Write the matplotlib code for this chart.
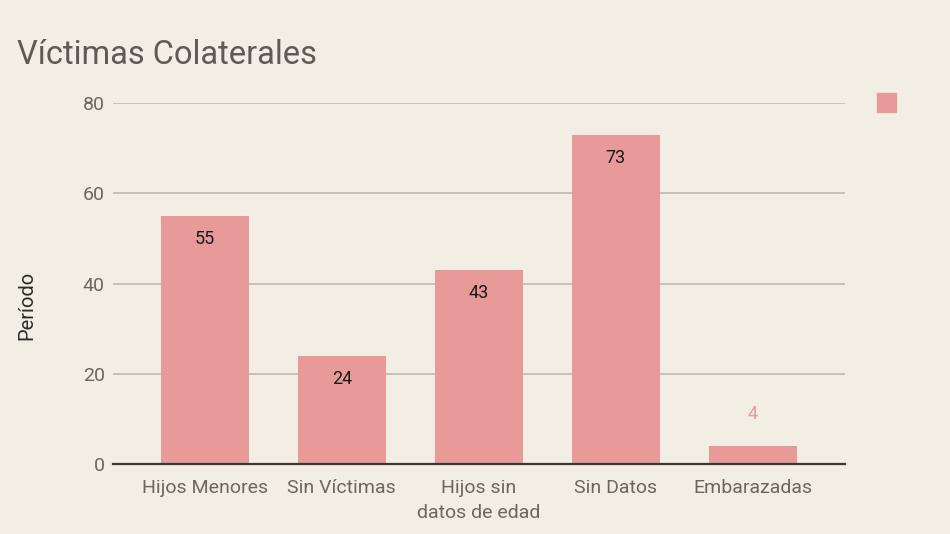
import matplotlib
matplotlib.use("Agg")
import matplotlib.pyplot as plt
from matplotlib.patches import Rectangle

categories = ["Hijos Menores", "Sin Víctimas", "Hijos sin\ndatos de edad", "Sin Datos", "Embarazadas"]
values = [55, 24, 43, 73, 4]
yticks = [0, 20, 40, 60, 80]

BG = "#f2eee3"
BAR = "#e89a99"
TXT = "#6b6660"
GRID = "#c6c1b5"

plt.rcParams['font.family'] = ['Roboto', 'DejaVu Sans']

fig = plt.figure(figsize=(9.5, 5.34), dpi=100, facecolor=BG)
ax = fig.add_axes([0.119, 0.131, 0.770, 0.676], facecolor=BG)

x = list(range(len(categories)))
bars = ax.bar(x, values, width=0.64, color=BAR, zorder=3)

for xi, v in zip(x, values):
    if v >= 10:
        ax.annotate(str(v), (xi, v), xytext=(0, -16.5), textcoords="offset points",
                    ha="center", va="center", fontsize=13, color="#1a1a1a", zorder=4)
    else:
        ax.annotate(str(v), (xi, v), xytext=(0, 23), textcoords="offset points",
                    ha="center", va="center", fontsize=13, color=BAR, zorder=4)

ax.set_xlim(-0.67, 4.67)
ax.set_ylim(0, 80)
ax.set_yticks(yticks)
ax.set_xticks(x)
ax.set_xticklabels(categories, fontsize=14, color=TXT, linespacing=1.55)
ax.tick_params(axis="y", labelsize=14, labelcolor=TXT, length=0, pad=6)
ax.tick_params(axis="x", length=0, pad=10.5)
ax.grid(axis="y", color=GRID, linewidth=1.4, zorder=0)
for s in ["top", "right", "left"]:
    ax.spines[s].set_visible(False)
ax.spines["bottom"].set_color("#3d3630")
ax.spines["bottom"].set_linewidth(1.6)
ax.spines["bottom"].set_zorder(5)

ax.set_ylabel("Período", fontsize=14.5, color="#2b2b2b")
ax.yaxis.set_label_coords(-0.105, 0.44)

fig.text(0.018, 0.897, "Víctimas Colaterales", fontsize=23.5, color="#5f5a55", ha="left", va="center")

fig.patches.append(Rectangle((877/950, 1 - 112/534), 19/950, 19/534,
                             transform=fig.transFigure, color=BAR, figure=fig))

fig.savefig("out.png", dpi=100, facecolor=BG)
